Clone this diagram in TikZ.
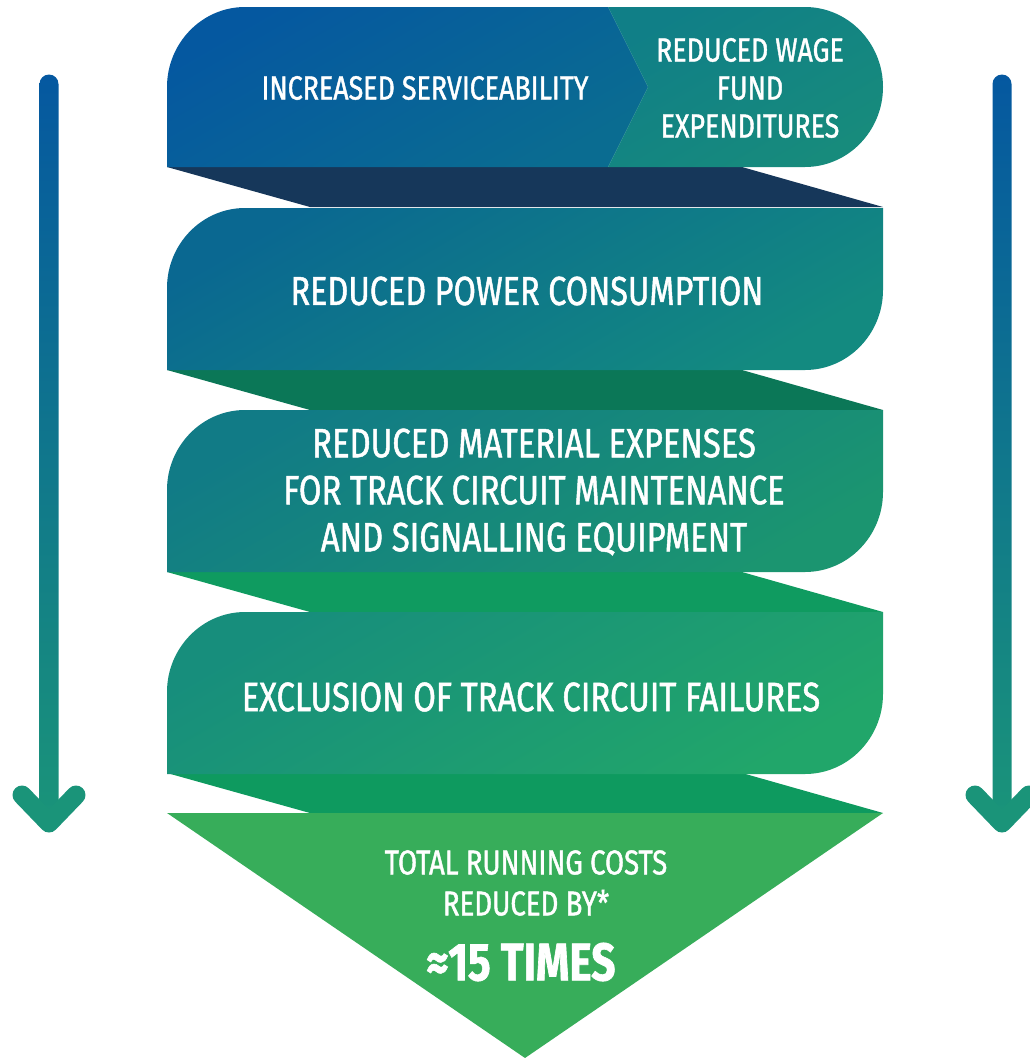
\documentclass[tikz,border=0pt]{standalone}
\usepackage{fontspec}
\setmainfont{Fira Sans}[FakeStretch=0.8, FakeBold=1.2]
\usetikzlibrary{calc}

\definecolor{foldA}{HTML}{16375A}
\definecolor{foldB}{HTML}{0B7757}
\definecolor{foldC}{HTML}{0F9B60}
\definecolor{foldD}{HTML}{0E9A5F}
\definecolor{servtop}{HTML}{0558A0}
\definecolor{servbot}{HTML}{0A6C91}
\definecolor{wagetop}{HTML}{107F87}
\definecolor{wagebot}{HTML}{178B7C}
\definecolor{powertop}{HTML}{0A6891}
\definecolor{powerbot}{HTML}{138A80}
\definecolor{mattop}{HTML}{117B86}
\definecolor{matbot}{HTML}{1B9570}
\definecolor{excltop}{HTML}{178E7C}
\definecolor{forbot}{HTML}{21A66A}
\definecolor{total}{HTML}{37AD5A}
\definecolor{arrtop}{HTML}{0558A0}
\definecolor{arrbot}{HTML}{1A9479}

\begin{document}
\begin{tikzpicture}[x=1pt, y=-1pt,
    lbl/.style = {text=white, align=center, inner sep=0pt},
    shaft/.style = {top color=arrtop, bottom color=arrbot, rounded corners=9.5pt},
    head/.style = {draw=arrbot, line width=19pt, line cap=round, line join=round}]
  \useasboundingbox (0,0) rectangle (1030,1058);
  %
  % folds behind the bands
  \foreach \t/\c in {167/foldA, 370/foldB, 572/foldC, 773/foldD}
    \fill[\c] (167,\t) -- (742,\t) -- (883,\t+40) -- (310,\t+40) -- cycle;
  %
  % top band, split by the chevron
  \shade[top color=servtop, bottom color=servbot, shading angle=30]
    (167,167) -- (167,87) .. controls (167,43) and (202,7) .. (245,7)
    -- (608,7) -- (648,87) -- (608,167) -- cycle;
  \shade[top color=wagetop, bottom color=wagebot, shading angle=30]
    (608,7) -- (805,7) .. controls (848,7) and (883,43) .. (883,87)
    .. controls (883,131) and (848,167) .. (805,167) -- (608,167) -- (648,87) -- cycle;
  %
  % the other bands
  \foreach \t/\ca/\cb in {208/powertop/powerbot, 410/mattop/matbot, 612/excltop/forbot}
    \shade[top color=\ca, bottom color=\cb, shading angle=30]
      (167,\t+162) -- (167,\t+80) .. controls (167,\t+36) and (202,\t) .. (245,\t)
      -- (883,\t) -- (883,\t+82) .. controls (883,\t+126) and (848,\t+162) .. (805,\t+162) -- cycle;
  %
  \fill[total] (167,813) -- (883,813) -- (525,1058) -- cycle;
  %
  \node[lbl, font=\fontsize{33.5}{38}\selectfont] (serv) at (425,88) {INCREASED SERVICEABILITY};
  \node[lbl, font=\fontsize{33.5}{38}\selectfont] (wage) at (750,88) {REDUCED WAGE\\FUND\\EXPENDITURES};
  \node[lbl, font=\fontsize{40.5}{46}\selectfont] (power) at (527,291) {REDUCED POWER CONSUMPTION};
  \node[lbl, font=\fontsize{41}{47}\selectfont] (mat) at (534,492)
    {REDUCED MATERIAL EXPENSES\\FOR TRACK CIRCUIT MAINTENANCE\\AND SIGNALLING EQUIPMENT};
  \node[lbl, font=\fontsize{41}{46}\selectfont] (excl) at (531,697) {EXCLUSION OF TRACK CIRCUIT FAILURES};
  \node[lbl, font=\fontsize{34.5}{41}\selectfont] (sum) at (526,883) {TOTAL RUNNING COSTS\\REDUCED BY*};
  \node[lbl, font=\fontsize{53}{55}\selectfont\bfseries] (times) at (521,962) {≈15 TIMES};
  %
  % side arrows
  \coordinate (ltop) at (49,84);
  \coordinate (lend) at (49,823);
  \coordinate (lwl) at (22,795);
  \coordinate (lwr) at (76,795);
  \coordinate (rtop) at (1002,84);
  \coordinate (rend) at (1002,823);
  \coordinate (rwl) at (975,795);
  \coordinate (rwr) at (1029,795);
  \shade[shaft] ($(ltop)+(-9.5,-9.5)$) rectangle ($(lend)+(9.5,0)$);
  \shade[shaft] ($(rtop)+(-9.5,-9.5)$) rectangle ($(rend)+(9.5,0)$);
  \draw[head] (lwl) -- (lend) -- (lwr);
  \draw[head] (rwl) -- (rend) -- (rwr);
\end{tikzpicture}
\end{document}
